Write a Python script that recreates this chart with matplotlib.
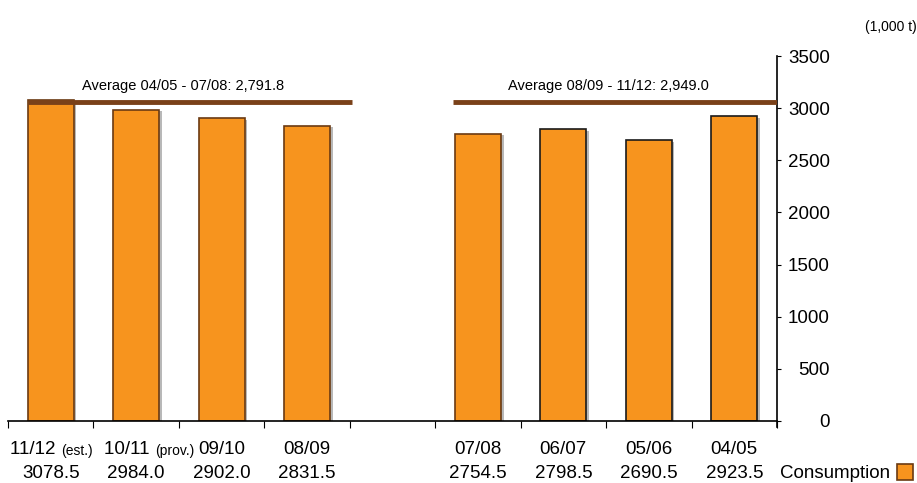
import matplotlib.pyplot as plt
from matplotlib.patches import Rectangle

plt.rcParams['font.family'] = ['Liberation Sans', 'DejaVu Sans']

# seasons, newest first, with an empty slot between the two 4-year groups
seasons = ['11/12', '10/11', '09/10', '08/09', '', '07/08', '06/07', '05/06', '04/05']
notes = ['(est.)', '(prov.)', '', '', '', '', '', '', '']
consumption = [3078.5, 2984.0, 2902.0, 2831.5, None, 2754.5, 2798.5, 2690.5, 2923.5]

avg_labels = ['Average 04/05 - 07/08: 2,791.8', 'Average 08/09 - 11/12: 2,949.0']
avg_level = 3060

orange = '#F7941E'
brown = '#7A4119'

fig = plt.figure(figsize=(9.17, 4.83), dpi=100)
ax = fig.add_axes([0.0087, 0.1284, 0.8386, 0.7556])

xs = [i for i, v in enumerate(consumption) if v is not None]
vals = [v for v in consumption if v is not None]
edges = ['#6B3A12'] * 5 + ['#1a1a1a'] * 3
for x, v, ec in zip(xs, vals, edges):
    # faint drop shadow behind each bar
    ax.add_patch(Rectangle((x - 0.27 + 0.03, 0), 0.54, v - 15, facecolor='#b8b8b8',
                           edgecolor='none', zorder=1))
    ax.bar(x, v, width=0.54, color=orange, edgecolor=ec, linewidth=1.2, zorder=2)

# average lines over each group
ax.plot([-0.27, 3.53], [avg_level, avg_level], color=brown, lw=3.5, solid_capstyle='butt', zorder=3)
ax.plot([4.71, 8.5], [avg_level, avg_level], color=brown, lw=3.5, solid_capstyle='butt', zorder=3)
ax.text(1.55, avg_level + 90, avg_labels[0], ha='center', va='bottom', fontsize=10.5)
ax.text(6.53, avg_level + 90, avg_labels[1], ha='center', va='bottom', fontsize=10.5)

ax.set_xlim(-0.5, 8.5)
ax.set_ylim(0, 3500)
ax.set_yticks(range(0, 3501, 500))
ax.yaxis.tick_right()
ax.tick_params(axis='y', direction='out', length=3, width=0.8, labelsize=13.5)
for lbl in ax.get_yticklabels():
    lbl.set_horizontalalignment('right')
ax.yaxis.set_tick_params(pad=35)

ax.set_xticks([i - 0.5 for i in range(10)])
ax.set_xticklabels([])
ax.tick_params(axis='x', direction='out', length=5, width=0.8)

for side in ['top', 'left']:
    ax.spines[side].set_visible(False)
ax.spines['right'].set_bounds(-60, 3500)
ax.spines['right'].set_linewidth(1.2)
ax.spines['bottom'].set_linewidth(1.2)

# split point (pixels right of the bar centre) for labels carrying a small note
note_split = {0: 10, 1: 19}

# two rows of labels under the axis: season and value
for i, (s, n, v) in enumerate(zip(seasons, notes, consumption)):
    if v is None:
        continue
    if n:
        dx = note_split[i]
        ax.annotate(s + ' ', (i, 0), xytext=(dx, -29), textcoords='offset pixels',
                    ha='right', va='center', fontsize=13.5, annotation_clip=False)
        ax.annotate(n, (i, 0), xytext=(dx, -30), textcoords='offset pixels',
                    ha='left', va='center', fontsize=10, annotation_clip=False)
    else:
        ax.annotate(s, (i, 0), xytext=(0, -29), textcoords='offset pixels',
                    ha='center', va='center', fontsize=13.5, annotation_clip=False)
    ax.annotate(f'{v:.1f}', (i, 0), xytext=(0, -57), textcoords='offset pixels',
                ha='center', va='baseline', fontsize=13.5, annotation_clip=False)

fig.text(0.8505, 1 - 478 / 483, 'Consumption', ha='left', va='baseline', fontsize=13.5)
fig.patches.append(Rectangle((0.978, 0.006), 0.0175, 0.0325, transform=fig.transFigure,
                             facecolor=orange, edgecolor='#6B3A12', linewidth=1.2))
fig.text(0.9995, 0.944, '(1,000 t)', ha='right', va='center', fontsize=10)

fig.savefig('out.png', dpi=100)
